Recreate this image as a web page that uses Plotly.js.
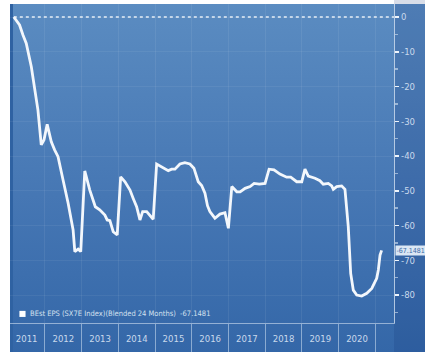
<!DOCTYPE html>
<html>
<head>
<meta charset="utf-8">
<script src="https://cdn.plot.ly/plotly-3.0.1.min.js"></script>
<style>
  html, body { margin:0; padding:0; background:#ffffff; overflow:hidden; }
  #bg { position:absolute; left:10px; top:4px; width:415px; height:348px;
        background: linear-gradient(to bottom, #5b8cc1 0%, #4677b4 55%, #3467a8 100%);
        border-left:3px solid #2f62a2; box-sizing:border-box; }
  #chart { position:absolute; left:0; top:0; width:425px; height:352px; }
</style>
</head>
<body>
<div id="bg"></div>
<div id="chart"></div>
<script>
// ---- data ----
const seriesName = "BEst EPS (SX7E Index)(Blended 24 Months)";
const dates = [
  "2011-02-25","2011-04-23","2011-05-27","2011-06-29","2011-08-18","2011-09-20","2011-10-23","2011-11-25","2011-12-22",
  "2012-01-23","2012-03-04","2012-04-07","2012-05-10","2012-06-29","2012-08-18","2012-10-07","2012-10-24","2012-11-26","2012-12-22",
  "2013-01-31","2013-03-22","2013-05-16","2013-06-29","2013-08-19","2013-09-11","2013-10-08","2013-11-10","2013-12-20",
  "2014-01-23","2014-03-07","2014-04-26","2014-05-28","2014-07-01","2014-08-03","2014-08-30","2014-10-09","2014-11-11","2014-12-13",
  "2015-01-16","2015-03-07","2015-04-16","2015-05-12","2015-06-15","2015-07-17","2015-09-05","2015-10-24","2015-12-13",
  "2016-01-22","2016-03-05","2016-04-08","2016-05-11","2016-06-05","2016-06-29","2016-08-18","2016-10-07","2016-11-26","2016-12-30",
  "2017-02-02","2017-03-24","2017-04-26","2017-06-14","2017-08-03","2017-09-12","2017-11-03","2017-12-30",
  "2018-02-08","2018-03-29","2018-05-27","2018-08-02","2018-09-11","2018-11-10","2018-12-30",
  "2019-01-31","2019-03-05","2019-05-11","2019-06-29","2019-08-01","2019-09-20","2019-10-24","2019-11-09","2019-12-13",
  "2020-01-31","2020-03-04","2020-04-06","2020-04-30","2020-05-26","2020-06-29","2020-08-18","2020-10-07","2020-11-26",
  "2021-01-14","2021-01-30","2021-02-16","2021-03-04"
];
const values = [
  0,-2.3,-5.2,-7.6,-14.3,-20,-26.8,-36.8,-35.4,
  -30.9,-35.9,-38.3,-40.2,-46.9,-53.5,-61.3,-67.5,-66.8,-67.5,
  -44.3,-49.8,-54.6,-55.5,-57,-58.4,-58.6,-61.8,-62.7,
  -46,-47.4,-49.8,-52.2,-54.6,-58.4,-56,-56,-57.3,-58.2,
  -42.3,-43.1,-43.8,-44.2,-43.8,-43.8,-42.3,-41.9,-42.3,
  -43.5,-47.4,-48.5,-50.7,-54.3,-56,-57.9,-56.7,-56.3,-60.8,
  -48.8,-50.3,-50.3,-49.3,-48.8,-47.9,-48.1,-47.9,
  -43.8,-44,-45.2,-46.1,-46.1,-47.4,-47.4,
  -43.8,-45.8,-46.4,-47.1,-48.1,-47.9,-48.6,-49.6,-48.8,
  -48.6,-49.6,-60.3,-73.8,-78.6,-80,-80.3,-79.5,-78.1,
  -75.2,-72.8,-68.5,-67.1481
];
const yTickVals = [0,-10,-20,-30,-40,-50,-60,-70,-80];
const yTickText = yTickVals.map(v => String(v));
const xRange = ["2011-01-18","2021-07-05"];
const yRange = [-88.05, 3.74];

const lastVal = values[values.length-1];

const fontFam = "Liberation Sans Narrow, DejaVu Sans Condensed, Liberation Sans, sans-serif";
const tickFont = {family:fontFam, size:9.5, color:"#c9d9ec"};

const traces = [
  {
    x: [dates[0], xRange[1]], y: [0, 0], mode:"lines",
    line:{color:"rgba(255,255,255,0.85)", width:1.5, dash:"dot"},
    hoverinfo:"skip", showlegend:false
  },
  {
    x: dates, y: values, mode:"lines", name: seriesName,
    line:{color:"#f3f7fc", width:2.8}, showlegend:false
  }
];

const layout = {
  width:425, height:352,
  margin:{l:10, r:31, t:4, b:29, pad:0},
  paper_bgcolor:"rgba(0,0,0,0)",
  plot_bgcolor:"rgba(0,0,0,0)",
  showlegend:false,
  xaxis:{
    type:"date", range:xRange,
    dtick:"M12", tick0:"2011-01-01", tickformat:"%Y",
    ticklabelmode:"period",
    ticklabeloverflow:"hide past domain",
    ticks:"outside", ticklen:28, tickwidth:1, tickcolor:"rgba(210,225,242,0.55)",
    ticklabelstandoff:-21,
    tickfont:tickFont,
    showgrid:true, gridcolor:"rgba(255,255,255,0.07)", gridwidth:1,
    showline:true, linecolor:"rgba(210,225,242,0.6)", linewidth:1,
    zeroline:false, fixedrange:true
  },
  yaxis:{
    side:"right", range:yRange,
    tickvals:yTickVals, ticktext:yTickText,
    ticks:"outside", ticklen:4, tickwidth:1.5, tickcolor:"#eef4fb",
    minor:{dtick:5, tick0:0, ticks:"outside", ticklen:3, tickcolor:"rgba(230,240,250,0.55)", showgrid:false},
    tickfont:tickFont,
    showgrid:true, gridcolor:"rgba(255,255,255,0.06)",
    showline:true, linecolor:"rgba(220,232,246,0.75)", linewidth:1.2,
    zeroline:false, fixedrange:true
  },
  shapes:[
    {type:"rect", xref:"paper", yref:"paper", x0:1, x1:1.09, y0:-0.1, y1:1.02,
     fillcolor:"rgba(15,45,110,0.16)", line:{width:0}, layer:"below"},
    {type:"rect", xref:"paper", yref:"paper", x0:0.0245, x1:0.0405, y0:0.019, y1:0.038,
     fillcolor:"#ffffff", line:{width:0}}
  ],
  annotations:[
    {xref:"paper", yref:"paper", x:0.046, y:0.0285, xanchor:"left", yanchor:"middle",
     text: seriesName + "\u00a0\u00a0" + lastVal.toFixed(4), showarrow:false,
     font:{family:fontFam, size:7.5, color:"#d3e0ef"}},
    {xref:"paper", yref:"y", x:1.003, y:lastVal, xanchor:"left", yanchor:"middle",
     text: lastVal.toFixed(4), showarrow:false, bgcolor:"#dbe7f4", borderpad:0.5,
     font:{family:fontFam, size:7, color:"#3a6aa6"}}
  ]
};

Plotly.newPlot("chart", traces, layout, {displayModeBar:false, staticPlot:true});
</script>
</body>
</html>
